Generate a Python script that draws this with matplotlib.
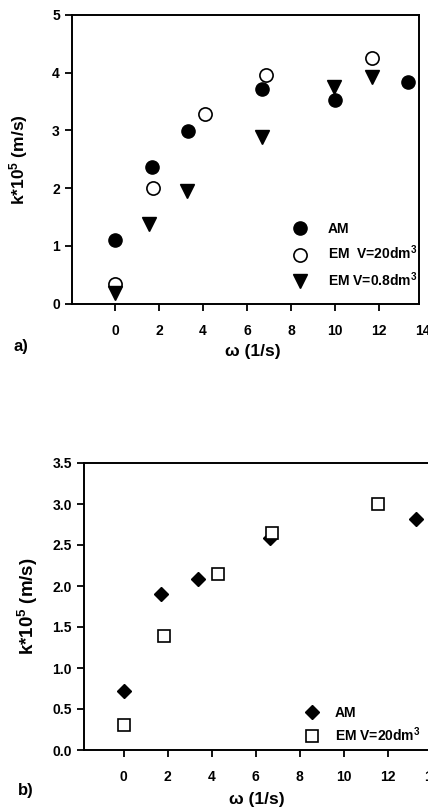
import matplotlib

matplotlib.use("Agg")
import matplotlib.pyplot as plt
from matplotlib.ticker import FormatStrFormatter

# panel a) values
omega_am_a = [0.0, 1.67, 3.33, 6.67, 10.0, 13.3]
k_am_a = [1.10, 2.37, 2.99, 3.72, 3.53, 3.84]
omega_em20_a = [0.0, 1.75, 4.10, 6.85, 11.67]
k_em20_a = [0.33, 2.00, 3.29, 3.96, 4.26]
omega_em08_a = [0.0, 1.56, 3.26, 6.70, 9.97, 11.70]
k_em08_a = [0.19, 1.37, 1.95, 2.88, 3.76, 3.93]

# panel b)
omega_am_b = [0.0, 1.70, 3.36, 6.64, 13.3]
k_am_b = [0.72, 1.90, 2.08, 2.58, 2.82]
omega_em20_b = [0.0, 1.85, 4.27, 6.73, 11.56]
k_em20_b = [0.30, 1.39, 2.15, 2.65, 3.00]

x_ticks = [0, 2, 4, 6, 8, 10, 12]
y_ticks_a = [0, 1, 2, 3, 4, 5]
y_ticks_b = [0.0, 0.5, 1.0, 1.5, 2.0, 2.5, 3.0, 3.5]

plt.rcParams["font.family"] = ["Liberation Sans", "DejaVu Sans"]
plt.rcParams["font.weight"] = "bold"
plt.rcParams["mathtext.fontset"] = "custom"
plt.rcParams["mathtext.rm"] = "Liberation Sans:bold"
plt.rcParams["mathtext.it"] = "Liberation Sans:bold"
plt.rcParams["mathtext.bf"] = "Liberation Sans:bold"

W, H = 428, 807
TICK_LEN = 4.7
TICK_PAD = 10
fig = plt.figure(figsize=(W / 100, H / 100), dpi=100)


def style_axes(ax):
    for side in ("top", "right", "bottom", "left"):
        ax.spines[side].set_linewidth(1.4)
    ax.tick_params(axis="both", direction="out", length=TICK_LEN, width=1.3,
                   labelsize=10, top=False, right=False)
    ax.tick_params(axis="x", pad=TICK_PAD)
    ax.tick_params(axis="y", pad=4)
    for lab in ax.get_xticklabels() + ax.get_yticklabels():
        lab.set_fontweight("bold")


# ---- panel a)
ax1 = fig.add_axes([72 / W, 1 - 303.5 / H, 346.5 / W, 288.5 / H])
ax1.plot(omega_am_a, k_am_a, "o", ms=9.5, color="black", label="AM")
ax1.plot(omega_em20_a, k_em20_a, "o", ms=9.5, mfc="white", mec="black", mew=1.2,
         label="EM  V=20dm$^3$")
ax1.plot(omega_em08_a, k_em08_a, "v", ms=9.5, color="black", label="EM V=0.8dm$^3$")
ax1.set_xlim(-1.95, 13.8)
ax1.set_ylim(0, 5)
ax1.set_xticks(x_ticks)
ax1.set_yticks(y_ticks_a)
style_axes(ax1)
# the "14" label sits just past the end of the axis in the original
ax1.annotate("14", xy=(14, 0), xycoords=("data", "axes fraction"),
             xytext=(0, -(TICK_LEN + TICK_PAD)), textcoords="offset points",
             ha="center", va="top", fontsize=10, fontweight="bold", annotation_clip=False)
ax1.set_ylabel("k*10$^5$ (m/s)", fontsize=12.5, fontweight="bold")
ax1.yaxis.set_label_coords(-0.121, 0.5)
ax1.set_xlabel("ω (1/s)", fontsize=12.5, fontweight="bold")
ax1.xaxis.set_label_coords(0.522, -0.14)
ax1.legend(loc="upper left", bbox_to_anchor=(0.628, 0.282), frameon=False,
           fontsize=10, handlelength=1.5, handletextpad=1.27, labelspacing=0.55,
           borderpad=0, borderaxespad=0, numpoints=1)

# ---- panel b)
ax2 = fig.add_axes([84 / W, 1 - 750 / H, 352 / W, 287 / H])
ax2.plot(omega_am_b, k_am_b, "D", ms=7.3, color="black", label="AM")
ax2.plot(omega_em20_b, k_em20_b, "s", ms=8, mfc="white", mec="black", mew=1.2,
         label="EM V=20dm$^3$")
ax2.set_xlim(-1.8, 14.2)
ax2.set_ylim(0, 3.5)
ax2.set_xticks(x_ticks + [14])
ax2.set_yticks(y_ticks_b)
ax2.yaxis.set_major_formatter(FormatStrFormatter("%.1f"))
style_axes(ax2)
ax2.set_ylabel("k*10$^5$ (m/s)", fontsize=13.5, fontweight="bold")
ax2.yaxis.set_label_coords(-0.125, 0.5)
ax2.set_xlabel("ω (1/s)", fontsize=12.5, fontweight="bold")
ax2.xaxis.set_label_coords(0.49, -0.145)
ax2.legend(loc="upper left", bbox_to_anchor=(0.618, 0.153), frameon=False,
           fontsize=10, handlelength=1.5, handletextpad=0.9, labelspacing=0.35,
           borderpad=0, borderaxespad=0, numpoints=1)

fig.text(21 / W, 1 - 347 / H, "a)", fontsize=12, fontweight="bold", ha="center", va="center")
fig.text(26 / W, 1 - 790 / H, "b)", fontsize=12, fontweight="bold", ha="center", va="center")

fig.savefig("out.png", dpi=100)
